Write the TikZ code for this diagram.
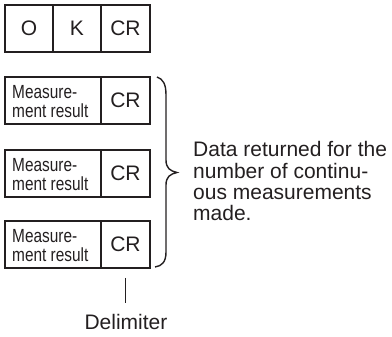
\documentclass[tikz,border=0pt]{standalone}
\usepackage{fontspec}
\setmainfont{Liberation Sans}
\newfontfamily\narrowfont[FakeStretch=0.81]{Liberation Sans}
\definecolor{ink}{HTML}{231F20}
\begin{document}
\begin{tikzpicture}[x=1pt,y=-1pt,
  cell/.style={draw=ink,line width=1.8pt,inner sep=0pt,outer sep=0pt,
    minimum height=47pt,font=\fontsize{21}{21}\selectfont,text=ink},
  frame/.style={draw=ink,line width=2.6pt},
  small/.style={font=\narrowfont\fontsize{19}{18.7}\selectfont,text=ink,inner sep=0pt,align=left,anchor=base west},
  big/.style={font=\fontsize{21}{21.3}\selectfont,text=ink,inner sep=0pt},
  thin/.style={draw=ink,line width=1.4pt}]
\useasboundingbox (0,0) rectangle (392,337);
% top row
\node[cell,minimum width=48pt] (o) at (29,28.5) {O};
\node[cell,minimum width=48pt] (k) at (77,28.5) {K};
\node[cell,minimum width=49pt] (cr0) at (125.5,28.5) {CR};
\draw[frame] (o.north west) rectangle (cr0.south east);
% measurement rows
\foreach \i/\y in {1/77,2/150,3/221}{
  \node[cell,minimum width=96pt] (m\i) at (53,\y+23.5) {};
  \node[cell,minimum width=49pt] (cr\i) at (125.5,\y+23.5) {CR};
  \draw[frame] (m\i.north west) rectangle (cr\i.south east);
  \node[small] (mt\i) at (12,\y+40.5) {Measure-\\ment result};
}
% brace
\draw[thin] (157,77) .. controls (163,79) and (166,84) .. (166,95) -- (166,160)
  .. controls (166,168) and (170,171) .. (177,172.5)
  .. controls (170,174) and (166,177) .. (166,185) -- (166,252)
  .. controls (166,262) and (162,266) .. (155,267);
\node[big,align=left,anchor=north west] (note) at (193,141.5)
  {Data returned for the\\number of continu-\\ous measurements\\made.};
% delimiter
\coordinate (d1) at (125.7,278);
\coordinate (d2) at (125.7,303);
\draw[draw=ink,line width=1.1pt] (d1) -- (d2);
\node[big,anchor=base] (delim) at (126,330) {Delimiter};
\end{tikzpicture}
\end{document}
